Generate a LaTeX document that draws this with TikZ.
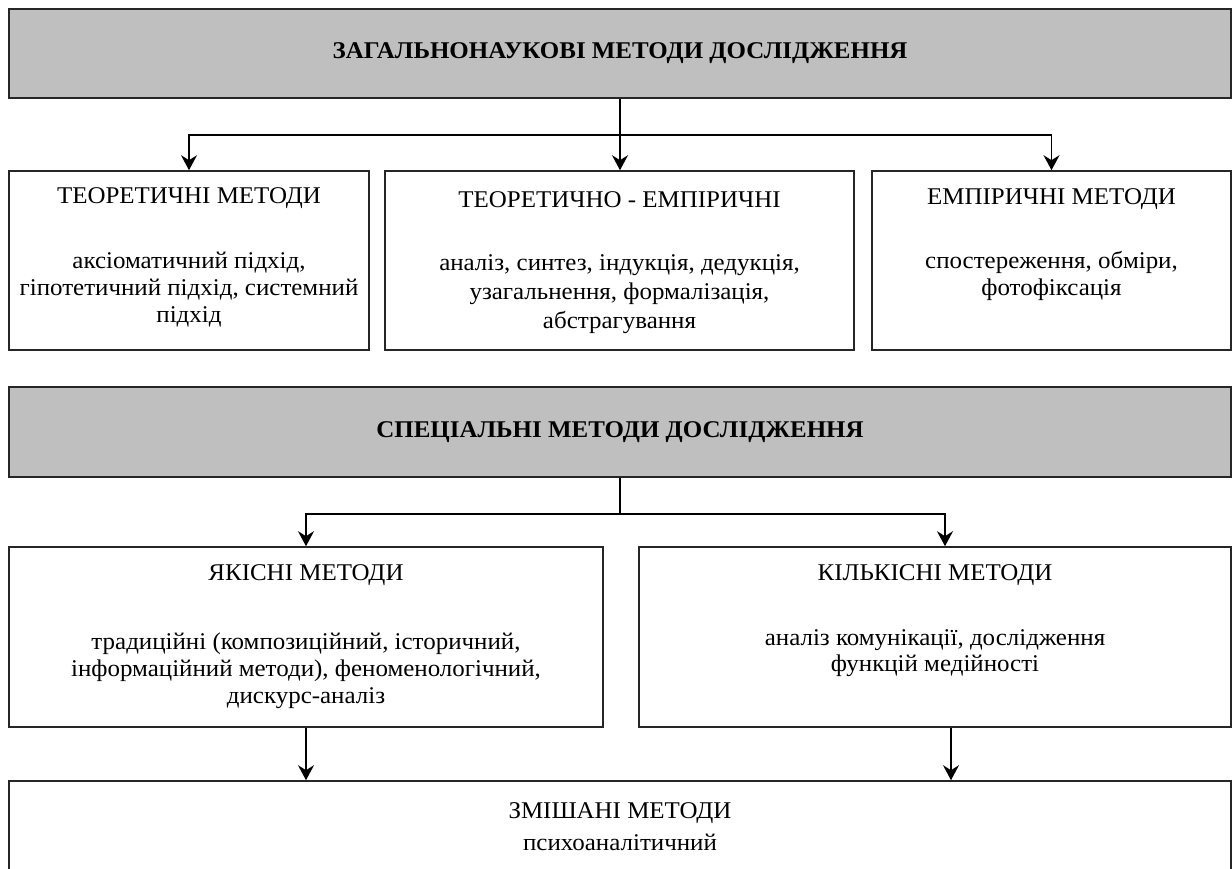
\documentclass[tikz,border=0pt]{standalone}
\usepackage{fontspec}
\setmainfont{Liberation Serif}[FakeStretch=1.04]
\usepackage{tikz}
\usetikzlibrary{arrows.meta, positioning}
\definecolor{BannerGray}{HTML}{BFBFBF}
\tikzset{
  % Box styles
  bannerbox/.style={rectangle, draw=black!85, fill=BannerGray, line width=0.8pt, minimum width=611pt, minimum height=44.5pt, inner sep=0pt},
  methodbox/.style={rectangle, draw=black!85, fill=white, line width=0.8pt, minimum height=89.5pt, inner sep=0pt},
  % Text styles
  bannertext/.style={inner sep=0pt, font=\fontsize{12}{14}\selectfont\bfseries},
  boxtext/.style={align=center, inner sep=0pt, font=\fontsize{12}{13.5}\selectfont},
  % Arrow styles
  arrow/.style={-{Stealth[length=7.5pt, width=8pt, inset=2.5pt]}, line width=0.8pt, black}
}

\begin{document}
\begin{tikzpicture}[x=0.5pt, y=-0.5pt]
  \useasboundingbox (0,0) rectangle (1232,868);
  \clip (0,0) rectangle (1232,868);

  % General methods
  \node[bannerbox] (zag) at (620,53.5) {};
  \node[bannertext] (zag-txt) at (zag.center) {ЗАГАЛЬНОНАУКОВІ МЕТОДИ ДОСЛІДЖЕННЯ};

  \node[methodbox, minimum width=180pt] (teor) at (189,260.5) {};
  \node[methodbox, minimum width=234.5pt] (teoremp) at (619.5,260.5) {};
  \node[methodbox, minimum width=179.5pt] (emp) at (1051.5,260.5) {};

  \node[boxtext, below=8.5pt of teor.north] (teor-txt) {ТЕОРЕТИЧНІ МЕТОДИ\\[19pt]
    аксіоматичний підхід,\\ гіпотетичний підхід, системний\\ підхід};
  \node[boxtext, font=\fontsize{12}{14.5}\selectfont, below=10.5pt of teoremp.north] (teoremp-txt) {ТЕОРЕТИЧНО - ЕМПІРИЧНІ\\[17pt]
    аналіз, синтез, індукція, дедукція,\\ узагальнення, формалізація,\\ абстрагування};
  \node[boxtext, below=9pt of emp.north] (emp-txt) {ЕМПІРИЧНІ МЕТОДИ\\[18.5pt]
    спостереження, обміри,\\ фотофіксація};

  % Special methods
  \node[bannerbox, minimum height=45pt] (spec) at (620,432) {};
  \node[bannertext] (spec-txt) at (spec.center) {СПЕЦІАЛЬНІ МЕТОДИ ДОСЛІДЖЕННЯ};

  \node[methodbox, minimum width=297pt, minimum height=90pt] (yak) at (306,637) {};
  \node[methodbox, minimum width=296pt, minimum height=90pt] (kil) at (935,637) {};
  \node[methodbox, minimum width=611pt, minimum height=50pt] (mix) at (620,831) {};

  \node[boxtext, below=9pt of yak.north] (yak-txt) {ЯКІСНІ МЕТОДИ\\[21pt]
    традиційні (композиційний, історичний,\\ інформаційний методи), феноменологічний,\\ дискурс-аналіз};
  \node[boxtext, below=9pt of kil.north] (kil-txt) {КІЛЬКІСНІ МЕТОДИ\\[18.75pt]
    аналіз комунікації, дослідження\\ функцій медійності};
  \node[boxtext, below=11pt of mix.north] (mix-txt) {ЗМІШАНІ МЕТОДИ\\[2.5pt]
    психоаналітичний};

  % Connectors
  \draw[arrow] (zag.south) -- (zag.south |- teoremp.north);
  \draw[arrow] (zag.south) -- ++(0,36) -| (teor.north);
  \draw[arrow] (zag.south) -- ++(0,36) -| (emp.north);
  \draw[arrow] (spec.south) -- ++(0,36) -| (yak.north);
  \draw[arrow] (spec.south) -- ++(0,36) -| ([xshift=5pt]kil.north);
  \draw[arrow] (yak.south) -- (yak.south |- mix.north);
  \draw[arrow] ([xshift=8pt]kil.south) -- ([xshift=8pt]kil.south |- mix.north);
\end{tikzpicture}
\end{document}
